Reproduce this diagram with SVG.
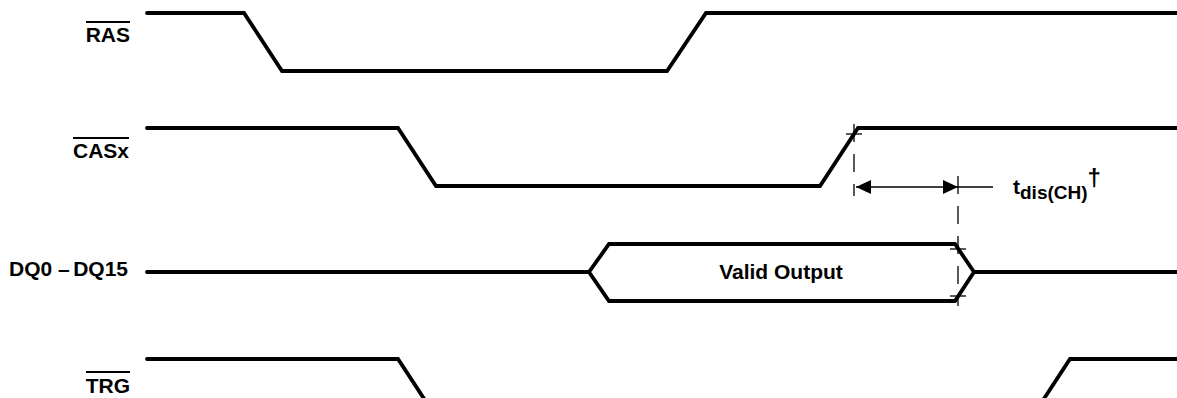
<svg xmlns="http://www.w3.org/2000/svg" width="1177" height="398" viewBox="0 0 1177 398">
<defs>
<style>
.sig{fill:none;stroke:#000;stroke-width:3.8;stroke-linejoin:miter;stroke-linecap:round}
.lbl{font-family:"Liberation Sans",Arial,sans-serif;font-weight:bold;font-size:21px;fill:#000}
.ovl{stroke:#000;stroke-width:1.8}
.thin{stroke:#000;stroke-width:1.3;fill:none}
.dash{stroke:#000;stroke-width:1.3;fill:none;stroke-dasharray:18 12}
</style>
<marker id="ah" viewBox="0 0 15 14" refX="15" refY="7" markerWidth="15" markerHeight="14" markerUnits="userSpaceOnUse" orient="auto-start-reverse">
<path d="M0,0 L15,7 L0,14 Z" fill="#000"/>
</marker>
</defs>
<rect width="1177" height="398" fill="#fff"/>
<g id="RAS">
<text class="lbl" x="130" y="42" text-anchor="end">RAS</text>
<line class="ovl" x1="86" y1="22" x2="130" y2="22"/>
<polyline class="sig" points="147,13 244,13 282,71 667,71 706,13 1180,13"/>
</g>
<g id="CASx">
<text class="lbl" x="129" y="158" text-anchor="end">CASx</text>
<line class="ovl" x1="73" y1="138" x2="129" y2="138"/>
<polyline class="sig" points="147,128 398,128 436,186 820,186 858,128 1180,128"/>
</g>
<g id="DQ">
<text class="lbl" x="128" y="276" text-anchor="end">DQ0 –<tspan dx="-2.5"> DQ15</tspan></text>
<polyline class="sig" points="147,272 589,272"/>
<polygon class="sig" points="589,272 609,244 955,244 974,272 955,301 609,301"/>
<polyline class="sig" points="974,272 1180,272"/>
<text class="lbl" x="781" y="279" text-anchor="middle">Valid Output</text>
</g>
<g id="TRG">
<text class="lbl" x="130" y="393" text-anchor="end">TRG</text>
<line class="ovl" x1="86" y1="372" x2="130" y2="372"/>
<polyline class="sig" points="147,359 398,359 436,417"/>
<polyline class="sig" points="1032,417 1070,359 1180,359"/>
</g>
<g id="connectors">
<line class="dash" x1="854" y1="124" x2="854" y2="196"/>
<line class="thin" x1="846" y1="134" x2="862" y2="134"/>
<line class="dash" x1="958" y1="176" x2="958" y2="306"/>
<line class="thin" x1="950" y1="249" x2="966" y2="249"/>
<line class="thin" x1="950" y1="296" x2="966" y2="296"/>
<line class="thin" x1="856" y1="187" x2="958" y2="187" marker-start="url(#ah)" marker-end="url(#ah)"/>
<line class="thin" x1="958" y1="187" x2="993" y2="187"/>
</g>
<g id="label-tdis">
<text class="lbl" x="1013" y="194"><tspan>t</tspan><tspan font-size="19" dy="5">dis(CH)</tspan><tspan font-size="24" dy="-13">†</tspan></text>
</g>
</svg>
